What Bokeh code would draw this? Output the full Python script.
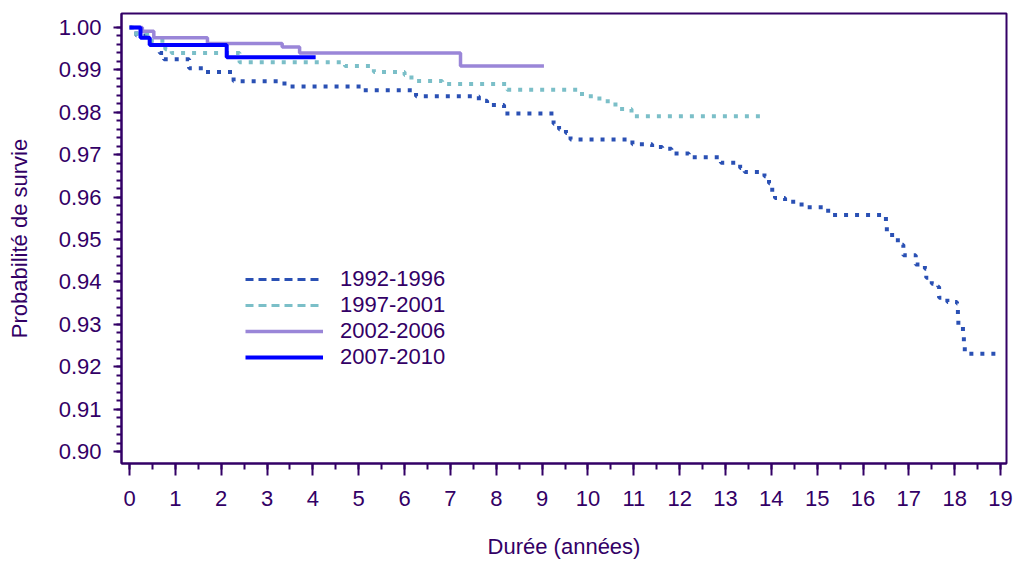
from bokeh.plotting import figure
from bokeh.models import FixedTicker, NumeralTickFormatter, Legend, LegendItem, Range1d
from bokeh.embed import file_html
from bokeh.resources import INLINE

# ---- data (Kaplan-Meier step points: time in years, survival probability) ----
t_1992 = [0, 0.05, 0.15, 0.35, 0.53, 0.66, 0.75, 1.30, 1.65, 2.27, 3.38, 5.10, 6.25, 7.62, 7.80,
          8.17, 9.25, 9.37, 9.52, 9.62, 10.97, 11.40, 11.62, 11.82, 12.20, 12.90, 13.32, 13.42,
          13.85, 13.95, 14.02, 14.08, 14.30, 14.66, 15.24, 16.40, 16.50, 16.52, 16.68, 16.76,
          16.88, 17.15, 17.35, 17.38, 17.50, 17.64, 17.66, 17.84, 18.05, 18.07, 18.08, 18.18,
          18.20, 18.22, 19.0]
s_1992 = [1.0, 0.9991, 0.9981, 0.9969, 0.9959, 0.9940, 0.9925, 0.9904, 0.9895, 0.9873, 0.9861,
          0.9852, 0.9838, 0.9827, 0.9817, 0.9797, 0.9773, 0.9760, 0.9751, 0.9736, 0.9725, 0.9718,
          0.9714, 0.9703, 0.9694, 0.9681, 0.9669, 0.9659, 0.9649, 0.9633, 0.9610, 0.9598, 0.9589,
          0.9576, 0.9558, 0.9553, 0.9537, 0.9511, 0.9507, 0.9488, 0.9463, 0.9441, 0.9431, 0.9410,
          0.9396, 0.9389, 0.9363, 0.9353, 0.9349, 0.9323, 0.9296, 0.9283, 0.9257, 0.9231, 0.9231]

t_1997 = [0, 0.10, 0.45, 0.78, 0.92, 2.40, 4.70, 5.33, 6.00, 6.15, 6.82, 8.24, 9.87, 10.25,
          10.60, 10.95, 13.85]
s_1997 = [1.0, 0.9985, 0.9969, 0.9949, 0.9940, 0.9918, 0.9909, 0.9895, 0.9888, 0.9874, 0.9867,
          0.9853, 0.9838, 0.9826, 0.9808, 0.9791, 0.9791]

t_2002 = [0, 0.28, 0.53, 1.70, 3.33, 3.71, 7.22, 9.04]
s_2002 = [1.0, 0.9991, 0.9976, 0.9962, 0.9954, 0.9940, 0.9909, 0.9909]

t_2007 = [0, 0.24, 0.44, 2.12, 4.06]
s_2007 = [1.0, 0.9976, 0.9959, 0.9930, 0.9930]

labels = ["1992-1996", "1997-2001", "2002-2006", "2007-2010"]
colors = ["#2A50B4", "#7BBFC8", "#9A86D8", "#0000FF"]

x_ticks = list(range(0, 20))
y_ticks = [0.90, 0.91, 0.92, 0.93, 0.94, 0.95, 0.96, 0.97, 0.98, 0.99, 1.00]

PURPLE = "#330066"
FONT = "Liberation Sans"

p = figure(width=1015, height=561, output_backend="svg", toolbar_location=None,
           x_range=Range1d(-0.175, 19.13), y_range=Range1d(0.8972, 1.0033),
           min_border_left=121, min_border_right=9, min_border_top=13, min_border_bottom=97)
p.xgrid.visible = False
p.ygrid.visible = False
p.outline_line_color = PURPLE
p.outline_line_width = 2
p.background_fill_color = "white"
p.border_fill_color = "white"

p.xaxis.ticker = FixedTicker(ticks=x_ticks, minor_ticks=[i * 0.5 for i in range(0, 39)])
p.yaxis.ticker = FixedTicker(ticks=y_ticks, minor_ticks=[0.90 + i * 0.002 for i in range(0, 51)])
p.yaxis.formatter = NumeralTickFormatter(format="0.00")

for ax in (p.xaxis[0], p.yaxis[0]):
    ax.axis_line_color = PURPLE
    ax.axis_line_width = 2
    ax.major_tick_line_color = PURPLE
    ax.major_tick_line_width = 2
    ax.minor_tick_line_color = PURPLE
    ax.minor_tick_line_width = 2
    ax.major_tick_in = 0
    ax.minor_tick_in = 0
    ax.major_label_text_font = FONT
    ax.major_label_text_font_size = "22px"
    ax.major_label_text_color = PURPLE
    ax.axis_label_text_font = FONT
    ax.axis_label_text_font_size = "22px"
    ax.axis_label_text_color = PURPLE
    ax.axis_label_text_font_style = "normal"

p.xaxis.major_tick_out = 12
p.xaxis.minor_tick_out = 6
p.xaxis.major_label_standoff = 15
p.xaxis.axis_label = "Durée (années)"
p.xaxis.axis_label_standoff = 25

p.yaxis.major_tick_out = 8
p.yaxis.minor_tick_out = 5
p.yaxis.major_label_standoff = 12
p.yaxis.axis_label = "Probabilité de survie"
p.yaxis.axis_label_standoff = 24

series = [(t_1992, s_1992, "4 7", 4), (t_1997, s_1997, "4 7", 4),
          (t_2002, s_2002, "solid", 3.5), (t_2007, s_2007, "solid", 4)]
for (t, s, dash, lw), col in zip(series, colors):
    p.step(t, s, mode="after", line_color=col, line_width=lw, line_dash=dash)

# legend swatches (own dash style, like the reference legend)
nan = float("nan")
leg_styles = [("8 5", 3), ("8 5", 3), ("solid", 3.5), ("solid", 4)]
items = []
for lab, col, (dash, lw) in zip(labels, colors, leg_styles):
    r = p.line(x=[nan, nan], y=[nan, nan], line_color=col, line_width=lw, line_dash=dash)
    items.append(LegendItem(label=lab, renderers=[r]))

legend = Legend(items=items, location=(124, 93), glyph_width=78, glyph_height=20,
                label_height=20, label_standoff=17, spacing=0, padding=0, margin=0,
                border_line_alpha=0, background_fill_alpha=0,
                label_text_font=FONT, label_text_font_size="22px", label_text_color=PURPLE)
p.add_layout(legend, "center")

open("out.html", "w").write(file_html(p, INLINE))
